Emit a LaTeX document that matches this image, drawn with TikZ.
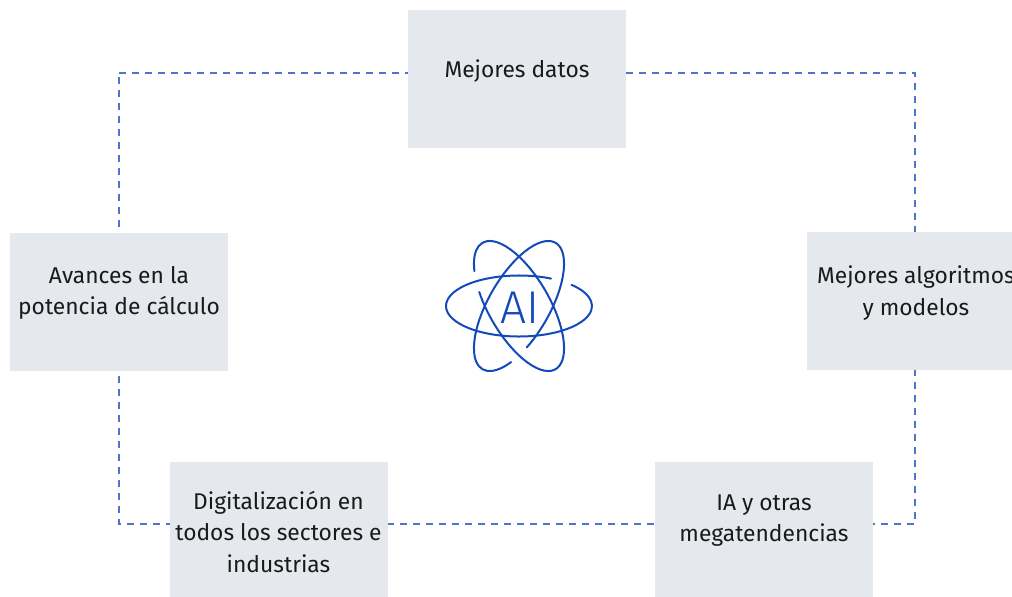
\documentclass[tikz,border=0pt]{standalone}
\usepackage{fontspec}
\setmainfont{Fira Sans}
\newfontfamily\thinfont{Fira Sans Light}
\definecolor{boxgray}{RGB}{229,233,238}
\definecolor{dashblue}{RGB}{78,118,200}
\definecolor{atomblue}{RGB}{18,74,187}
\definecolor{txt}{RGB}{26,26,26}
\begin{document}
\begin{tikzpicture}[x=1pt,y=-1pt,
  box/.style={fill=boxgray, minimum width=218pt, minimum height=138pt, inner sep=0pt},
  lbl/.style={anchor=base, align=center, text=txt, font=\fontsize{22.8}{31.5}\selectfont, inner sep=0pt},
  loopline/.style={draw=dashblue, line width=1.1pt, dash pattern=on 7pt off 6pt},
  orbit/.style={draw=atomblue, line width=2pt, line cap=round}]
\useasboundingbox (0,0) rectangle (1012,597);
\clip (0,0) rectangle (1012,597);
\fill[white] (0,0) rectangle (1012,597);
% dashed cycle behind the boxes
\coordinate (c1) at (119,73);
\coordinate (c2) at (915,73);
\coordinate (c3) at (915,524);
\coordinate (c4) at (119,524);
\draw[loopline] (c1) -- (c2) -- (c3) -- (c4) -- cycle;
% boxes
\node[box] (top) at (517,79) {};
\node[box] (left) at (119,301.5) {};
\node[box] (right) at (916,301) {};
\node[box] (bl) at (278.5,531) {};
\node[box] (br) at (764,531) {};
% texts (base anchor = baseline of the last line)
\node[lbl] (ttop) at (517,77) {Mejores datos};
\node[lbl] (tleft) at (119,314.5) {Avances en la\\potencia de cálculo};
\node[lbl] (tright) at (916,315) {Mejores algoritmos\\y modelos};
\node[lbl] (tbl) at (278.5,572) {Digitalización en\\todos los sectores e\\industrias};
\node[lbl] (tbr) at (764,541.5) {IA y otras\\megatendencias};
% atom icon
\begin{scope}[shift={(519,306)}, yscale=-1]
  \foreach \r in {0,120,240}
    \draw[orbit, rotate=\r] (64:73 and 30.5) arc[start angle=64, end angle=404, x radius=73, y radius=30.5];
\end{scope}
\node[anchor=base, text=atomblue, font=\thinfont\fontsize{46}{46}\selectfont, inner sep=0pt] (ai) at (519.5,323) {AI};
\end{tikzpicture}
\end{document}
